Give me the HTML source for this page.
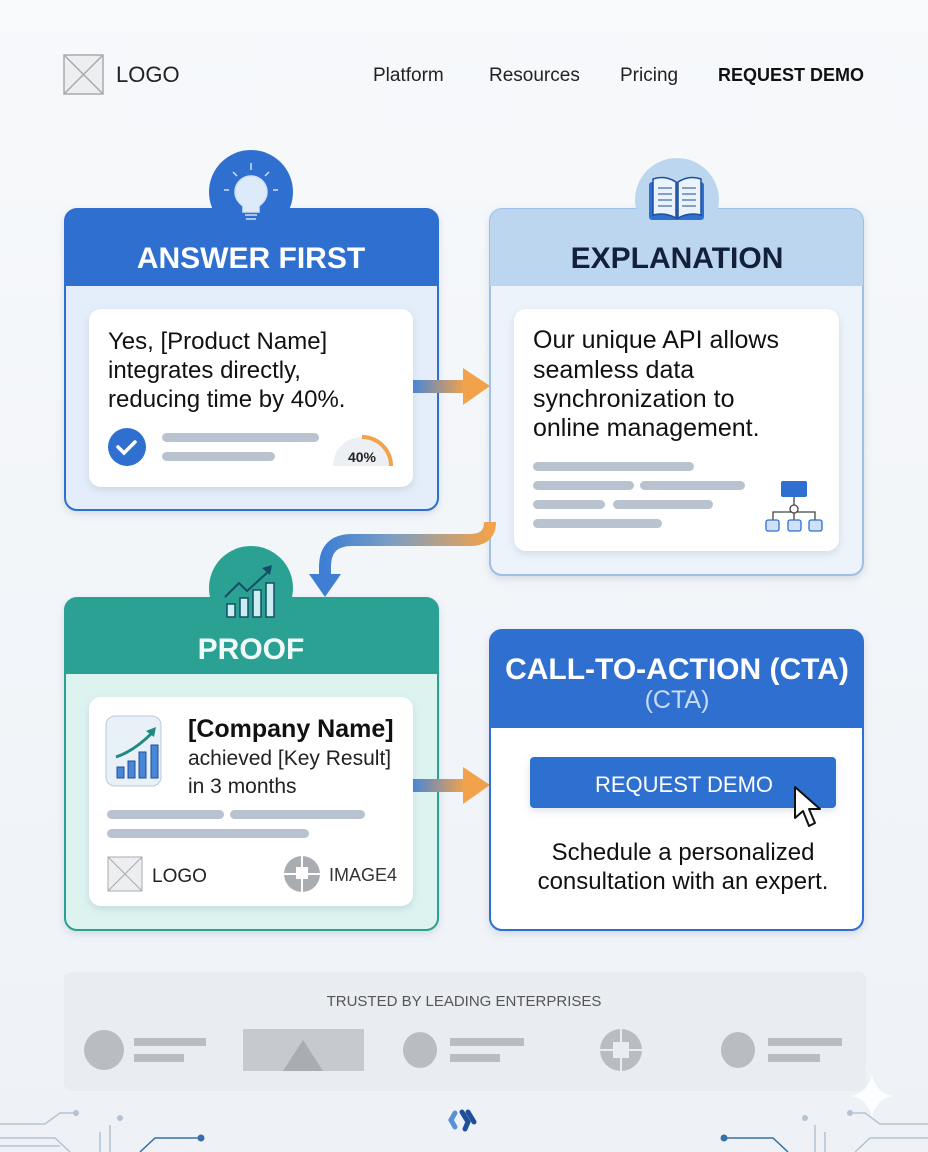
<!DOCTYPE html>
<html><head><meta charset="utf-8"><style>
html,body{margin:0;padding:0;width:928px;height:1152px;overflow:hidden;background:#f3f6fa}
svg{display:block}
text{font-family:"Liberation Sans",sans-serif}
</style></head><body>
<svg width="928" height="1152" viewBox="0 0 928 1152" xmlns="http://www.w3.org/2000/svg">
<defs>
<linearGradient id="bg" x1="0" y1="0" x2="0" y2="1"><stop offset="0" stop-color="#f7f9fb"/><stop offset="1" stop-color="#eef2f7"/></linearGradient>
<linearGradient id="arr" x1="0" y1="0" x2="1" y2="0"><stop offset="0" stop-color="#4a86d6"/><stop offset="1" stop-color="#f2a24a"/></linearGradient>
<linearGradient id="arr2" x1="1" y1="0" x2="0" y2="0"><stop offset="0" stop-color="#f2a24a"/><stop offset="0.6" stop-color="#7b9ec4"/><stop offset="1" stop-color="#3f7fd3"/></linearGradient>
<filter id="sh" x="-10%" y="-10%" width="120%" height="130%"><feDropShadow dx="0" dy="3" stdDeviation="4" flood-color="#6b7f99" flood-opacity="0.22"/></filter>
</defs>
<rect width="928" height="1152" fill="url(#bg)"/>

<!-- nav -->
<rect x="64" y="55" width="39" height="39" fill="#eceeef" stroke="#a7abb0" stroke-width="1.5"/>
<path d="M64 55 L103 94 M103 55 L64 94" stroke="#a7abb0" stroke-width="1.5"/>
<text x="116" y="82" font-size="22" fill="#222">LOGO</text>
<text x="373" y="81" font-size="19" fill="#222">Platform</text>
<text x="489" y="81" font-size="19" fill="#222">Resources</text>
<text x="620" y="81" font-size="19" fill="#222">Pricing</text>
<text x="718" y="81" font-size="18" fill="#111" font-weight="bold" textLength="146">REQUEST DEMO</text>

<!-- ANSWER FIRST -->
<g filter="url(#sh)">
<rect x="65" y="209" width="373" height="301" rx="12" fill="#e4eefa" stroke="#2f6fd0" stroke-width="2"/>
</g>
<path d="M65 221 a12 12 0 0 1 12 -12 h349 a12 12 0 0 1 12 12 V286 H65Z" fill="#2f6fd0"/>
<circle cx="251" cy="192" r="42" fill="#2f6fd0"/>
<g stroke="#cfe1f6" stroke-width="1.5" fill="none">
<path d="M251 170v-7 M237 176l-4-4 M265 176l4-4 M229 190h-5 M273 190h5"/>
<path d="M243 206 q-8 -6 -8 -14 a16 16 0 0 1 32 0 q0 8 -8 14 v6 h-16z" fill="#dceafa"/>
<path d="M245 215h12 M246 219h10"/>
</g>
<text x="251" y="268" text-anchor="middle" font-size="30" font-weight="bold" fill="#fff">ANSWER FIRST</text>
<rect x="89" y="309" width="324" height="178" rx="12" fill="#fff" filter="url(#sh)"/>
<text font-size="24" fill="#111"><tspan x="108" y="349">Yes, [Product Name]</tspan><tspan x="108" y="378">integrates directly,</tspan><tspan x="108" y="407">reducing time by 40%.</tspan></text>
<circle cx="127" cy="447" r="19" fill="#2f6fd0"/>
<path d="M118 447 l6 6 l11 -11" stroke="#fff" stroke-width="3.5" fill="none" stroke-linecap="round"/>
<rect x="162" y="433" width="157" height="9" rx="4.5" fill="#b9c3cf"/>
<rect x="162" y="452" width="113" height="9" rx="4.5" fill="#b9c3cf"/>
<path d="M333 466 a29 29 0 0 1 58 0" fill="#eceff3"/>
<path d="M362 437 a29 29 0 0 1 29 29" stroke="#f2a24a" stroke-width="4" fill="none"/>
<text x="362" y="462" text-anchor="middle" font-size="14" font-weight="bold" fill="#222">40%</text>

<!-- arrow1 -->
<rect x="413" y="380" width="52" height="13" fill="url(#arr)"/>
<path d="M463 368 L490 386 L463 405Z" fill="#f2a24a"/>

<!-- EXPLANATION -->
<g filter="url(#sh)">
<rect x="490" y="209" width="373" height="366" rx="12" fill="#edf3fb" stroke="#9ec0e6" stroke-width="2"/>
</g>
<path d="M490 221 a12 12 0 0 1 12 -12 h349 a12 12 0 0 1 12 12 V286 H490Z" fill="#bcd6f0"/>
<circle cx="677" cy="200" r="42" fill="#bcd6f0"/>
<rect x="649" y="182" width="55" height="38" rx="3" fill="#2f6fd0"/>
<path d="M653 179 q12 -4 23 3 v36 q-11 -6 -23 -3z M701 179 q-12 -4 -23 3 v36 q11 -6 23 -3z" fill="#eaf2fb" stroke="#1f4f9a" stroke-width="1.5"/>
<path d="M658 188h14 M658 194h14 M658 200h14 M658 206h14 M682 188h14 M682 194h14 M682 200h14 M682 206h14" stroke="#1f4f9a" stroke-width="1"/>
<text x="677" y="268" text-anchor="middle" font-size="30" font-weight="bold" fill="#13203a">EXPLANATION</text>
<rect x="514" y="309" width="325" height="242" rx="12" fill="#fff" filter="url(#sh)"/>
<text font-size="25" fill="#111"><tspan x="533" y="348">Our unique API allows</tspan><tspan x="533" y="378">seamless data</tspan><tspan x="533" y="407">synchronization to</tspan><tspan x="533" y="436">online management.</tspan></text>
<g fill="#b9c3cf">
<rect x="533" y="462" width="161" height="9" rx="4.5"/>
<rect x="533" y="481" width="101" height="9" rx="4.5"/>
<rect x="640" y="481" width="105" height="9" rx="4.5"/>
<rect x="533" y="500" width="72" height="9" rx="4.5"/>
<rect x="613" y="500" width="100" height="9" rx="4.5"/>
<rect x="533" y="519" width="129" height="9" rx="4.5"/>
</g>
<rect x="781" y="481" width="26" height="16" rx="2" fill="#2f6fd0"/>
<path d="M794 497v11 M773 520v-8h42v8 M794 512v8" stroke="#444" stroke-width="1.3" fill="none"/>
<circle cx="794" cy="509" r="4" fill="#fff" stroke="#444" stroke-width="1.3"/>
<g fill="#cfe1f6" stroke="#2f6fd0" stroke-width="1.3"><rect x="766" y="520" width="13" height="11" rx="2"/><rect x="788" y="520" width="13" height="11" rx="2"/><rect x="809" y="520" width="13" height="11" rx="2"/></g>

<!-- curved connector -->
<path d="M490 522 q0 18 -20 18 H352 q-27 0 -27 27 V578" stroke="url(#arr2)" stroke-width="12" fill="none"/>
<path d="M309 574 L341 574 L325 597Z" fill="#3f7fd3"/>

<!-- PROOF -->
<g filter="url(#sh)">
<rect x="65" y="598" width="373" height="332" rx="12" fill="#ddf3f0" stroke="#2aa193" stroke-width="2"/>
</g>
<path d="M65 610 a12 12 0 0 1 12 -12 h349 a12 12 0 0 1 12 12 V674 H65Z" fill="#2aa193"/>
<circle cx="251" cy="588" r="42" fill="#2aa193"/>
<g stroke="#134e66" stroke-width="1.5" fill="#cdeef0">
<rect x="227" y="604" width="8" height="13"/><rect x="240" y="598" width="8" height="19"/><rect x="253" y="590" width="8" height="27"/><rect x="266" y="583" width="8" height="34"/>
</g>
<path d="M225 597 l14 -14 l8 8 l22 -20" stroke="#134e66" stroke-width="2" fill="none"/>
<path d="M262 568 l10 -3 l-2 10z" fill="#134e66"/>
<text x="251" y="659" text-anchor="middle" font-size="30" font-weight="bold" fill="#f0fbf9">PROOF</text>
<rect x="89" y="697" width="324" height="209" rx="12" fill="#fff" filter="url(#sh)"/>
<rect x="106" y="716" width="55" height="70" rx="9" fill="#e8f0f8" stroke="#b8c9dc"/>
<g fill="#4a86d6" stroke="#1f4f9a" stroke-width="1"><rect x="117" y="767" width="7" height="11"/><rect x="128" y="761" width="7" height="17"/><rect x="139" y="752" width="7" height="26"/><rect x="151" y="745" width="7" height="33"/></g>
<path d="M116 757 q18 -6 36 -24" stroke="#1f8a80" stroke-width="3" fill="none"/>
<path d="M146 731 l10 -4 l-2 10z" fill="#1f8a80"/>
<text x="188" y="737" font-size="25" font-weight="bold" fill="#111">[Company Name]</text>
<text x="188" y="765" font-size="21" fill="#222">achieved [Key Result]</text>
<text x="188" y="793" font-size="21" fill="#222">in 3 months</text>
<g fill="#b9c3cf"><rect x="107" y="810" width="117" height="9" rx="4.5"/><rect x="230" y="810" width="135" height="9" rx="4.5"/><rect x="107" y="829" width="202" height="9" rx="4.5"/></g>
<rect x="108" y="857" width="34" height="34" fill="#eceeef" stroke="#a7abb0"/>
<path d="M108 857 L142 891 M142 857 L108 891" stroke="#a7abb0"/>
<text x="152" y="882" font-size="19" fill="#222">LOGO</text>
<circle cx="302" cy="874" r="18" fill="#a9adb2"/>
<path d="M296 867h12v12h-12z" fill="#fff"/>
<path d="M302 856v11 M320 874h-12 M302 892v-13 M284 874h12" stroke="#fff" stroke-width="2"/>
<text x="329" y="881" font-size="18" fill="#333">IMAGE4</text>

<!-- arrow2 -->
<rect x="413" y="779" width="52" height="13" fill="url(#arr)"/>
<path d="M463 767 L490 785 L463 804Z" fill="#f2a24a"/>

<!-- CTA -->
<g filter="url(#sh)">
<rect x="490" y="630" width="373" height="300" rx="12" fill="#fff" stroke="#2f6fd0" stroke-width="2"/>
</g>
<path d="M490 642 a12 12 0 0 1 12 -12 h349 a12 12 0 0 1 12 12 V728 H490Z" fill="#2f6fd0"/>
<text x="677" y="679" text-anchor="middle" font-size="30" font-weight="bold" fill="#fff">CALL-TO-ACTION (CTA)</text>
<text x="677" y="708" text-anchor="middle" font-size="25" fill="#c9dcf5">(CTA)</text>
<rect x="530" y="757" width="306" height="51" rx="4" fill="#2f6fd0" filter="url(#sh)"/>
<text x="684" y="792" text-anchor="middle" font-size="22" fill="#fff">REQUEST DEMO</text>
<path d="M795 787 L795 818 L803 811 L809 826 L815 823 L809 809 L820 809Z" fill="#fff" stroke="#111" stroke-width="2" stroke-linejoin="round"/>
<text x="683" y="860" text-anchor="middle" font-size="24" fill="#111">Schedule a personalized</text>
<text x="683" y="889" text-anchor="middle" font-size="24" fill="#111">consultation with an expert.</text>

<!-- trusted -->
<rect x="64" y="972" width="802" height="119" rx="8" fill="#e9edf1"/>
<text x="464" y="1006" text-anchor="middle" font-size="15" fill="#555">TRUSTED BY LEADING ENTERPRISES</text>
<g fill="#b9bdc2">
<ellipse cx="104" cy="1050" rx="20" ry="20"/><rect x="134" y="1038" width="72" height="8"/><rect x="134" y="1054" width="50" height="8"/>
<rect x="243" y="1029" width="121" height="42" fill="#c6cace"/><path d="M283 1071 L303 1040 L323 1071Z" fill="#a9adb2"/>
<ellipse cx="420" cy="1050" rx="17" ry="18"/><rect x="450" y="1038" width="74" height="8"/><rect x="450" y="1054" width="50" height="8"/>
<circle cx="621" cy="1050" r="21"/>
<ellipse cx="738" cy="1050" rx="17" ry="18"/><rect x="768" y="1038" width="74" height="8"/><rect x="768" y="1054" width="52" height="8"/>
</g>
<path d="M613 1042h16v16h-16z" fill="#e9edf1"/>
<path d="M621 1029v13 M642 1050h-13 M621 1071v-13 M600 1050h13" stroke="#e9edf1" stroke-width="2"/>

<!-- footer deco -->
<g stroke="#b4c3d3" stroke-width="1.5" fill="none">
<path d="M0 1124 H45 L60 1113 H76"/><path d="M0 1138 H55 L70 1152"/><path d="M0 1146 H60"/>
<path d="M110 1152 V1125"/><path d="M100 1152 V1132"/>
<path d="M928 1124 H880 L865 1113 H850"/><path d="M928 1138 H870 L855 1152"/>
<path d="M815 1152 V1125"/><path d="M825 1152 V1132"/>
</g>
<circle cx="76" cy="1113" r="3" fill="#b4c3d3"/><circle cx="850" cy="1113" r="3" fill="#b4c3d3"/>
<circle cx="120" cy="1118" r="3" fill="#b4c3d3"/><circle cx="805" cy="1118" r="3" fill="#b4c3d3"/>
<path d="M140 1152 L155 1138 H200" stroke="#3a6ea8" stroke-width="1.5" fill="none"/><circle cx="201" cy="1138" r="3.5" fill="#3a6ea8"/>
<path d="M788 1152 L773 1138 H725" stroke="#3a6ea8" stroke-width="1.5" fill="none"/><circle cx="724" cy="1138" r="3.5" fill="#3a6ea8"/>
<g stroke-linecap="round" stroke-width="5" fill="none">
<path d="M455 1113 l-4 7 l4 7" stroke="#5b8fd6"/><path d="M462 1112 l6 10 l-3 7" stroke="#1f4f9a"/><path d="M468 1112 l6 10" stroke="#1f4f9a"/>
</g>
<path d="M872 1074 q3 18 20 22 q-17 4 -20 22 q-3 -18 -20 -22 q17 -4 20 -22z" fill="#fff" opacity="0.8"/>
</svg>
</body></html>
